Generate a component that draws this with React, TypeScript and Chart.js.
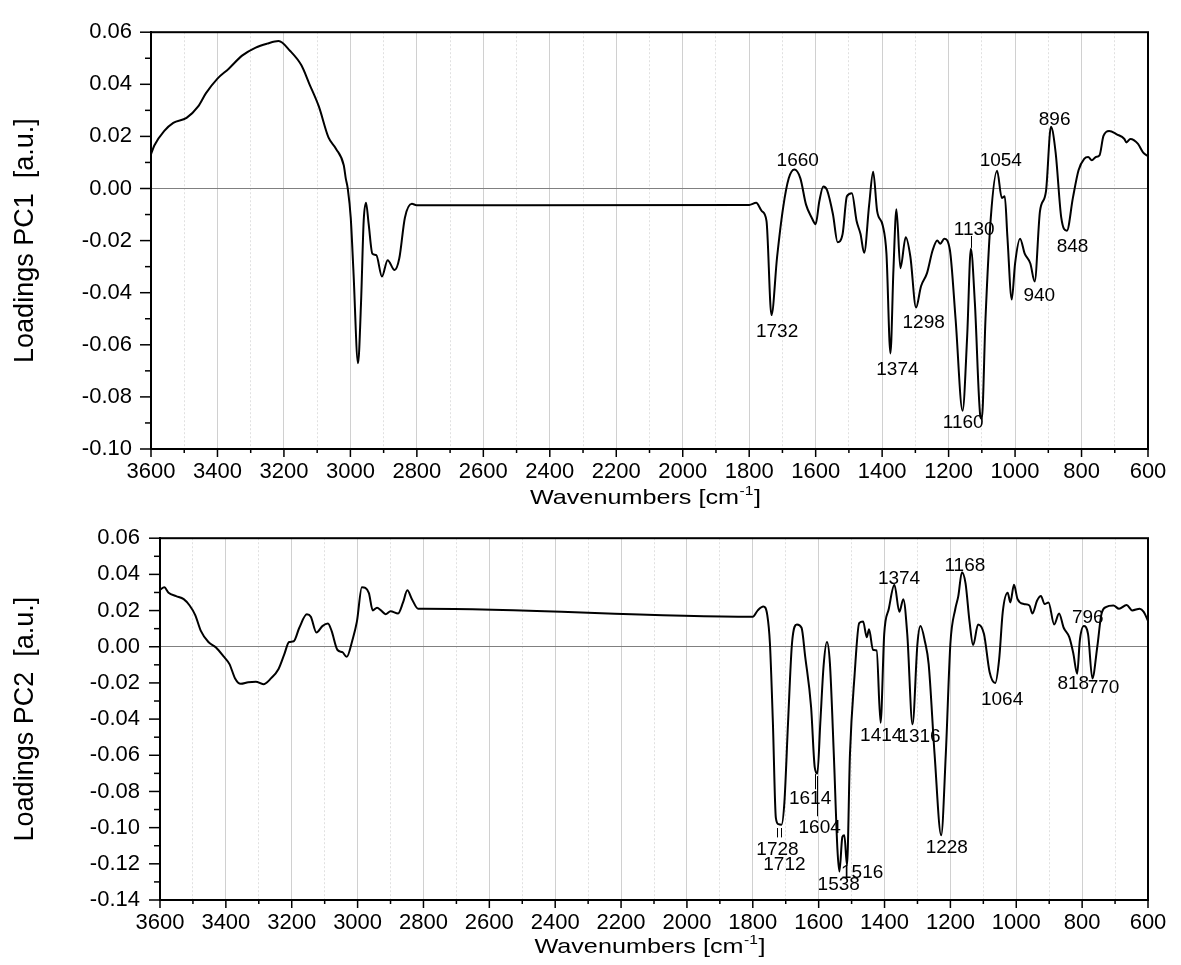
import React, { useEffect, useRef } from 'react';
import { Chart, registerables } from 'chart.js';

Chart.register(...registerables);

// ---------- DATA ----------
const pc1Wavenumbers = [
  3600, 3590, 3560, 3533, 3493, 3458, 3435, 3400, 3366, 3326, 3285, 3251, 3216, 3182, 3147, 3124, 3095,
  3066, 3043, 3020, 3014, 3008, 2999, 2991, 2977, 2968, 2960, 2953, 2945, 2934, 2922, 2905, 2888, 2867,
  2853, 2836, 2815, 2801, 1800, 1779, 1762, 1748, 1733, 1716, 1698, 1681, 1664, 1646, 1629, 1612, 1600,
  1589, 1577, 1566, 1548, 1534, 1519, 1506, 1491, 1477, 1465, 1454, 1439, 1427, 1415, 1398, 1387, 1375,
  1366, 1357, 1345, 1329, 1315, 1298, 1283, 1265, 1248, 1234, 1225, 1213, 1196, 1179, 1158, 1144, 1133,
  1121, 1104, 1100, 1089, 1073, 1054, 1040, 1031, 1023, 1010, 1000, 985, 971, 954, 941, 925, 907, 892,
  878, 861, 844, 826, 809, 792, 780, 769, 757, 746, 734, 717, 694, 671, 665, 653, 630, 615, 600,
];
const pc1Loadings = [
  0.0131, 0.0165, 0.0221, 0.0252, 0.0271, 0.0315, 0.0365, 0.0422, 0.046, 0.051, 0.0541, 0.0556, 0.0566,
  0.0529, 0.0472, 0.0403, 0.0315, 0.0196, 0.0152, 0.0089, 0.0039, 0.0, -0.0112, -0.0313, -0.0671, -0.0438,
  -0.0124, -0.0055, -0.0137, -0.025, -0.0256, -0.0338, -0.0275, -0.0313, -0.0269, -0.0112, -0.0059, -0.0064,
  -0.0063, -0.0055, -0.0087, -0.0124, -0.0486, -0.0262, -0.0074, 0.0039, 0.0073, 0.0039, -0.0062, -0.0112,
  -0.0137, -0.0049, 0.0008, -0.0005, -0.0099, -0.0206, -0.0175, -0.003, -0.0018, -0.0124, -0.0175, -0.0247,
  -0.0062, 0.0064, -0.0087, -0.0143, -0.025, -0.0633, -0.0313, -0.008, -0.0306, -0.0187, -0.0262, -0.0457,
  -0.0375, -0.0325, -0.0237, -0.02, -0.0212, -0.0193, -0.0237, -0.0501, -0.0853, -0.0564, -0.0231, -0.0438,
  -0.0878, -0.0884, -0.0501, -0.0112, 0.0068, -0.0036, -0.003, -0.0187, -0.0426, -0.0288, -0.0193, -0.025,
  -0.0288, -0.0357, -0.0087, -0.0011, 0.0237, 0.0139, -0.0112, -0.0162, -0.0036, 0.007, 0.0114, 0.0121,
  0.0108, 0.0121, 0.0127, 0.0202, 0.0221, 0.0208, 0.019, 0.0177, 0.019, 0.0171, 0.0139, 0.0124,
];

const pc2Wavenumbers = [
  3600, 3587, 3574, 3551, 3528, 3510, 3493, 3476, 3453, 3430, 3407, 3389, 3372, 3355, 3332, 3309, 3286,
  3263, 3240, 3223, 3208, 3194, 3177, 3154, 3142, 3125, 3107, 3090, 3079, 3061, 3046, 3033, 3016, 3002,
  2987, 2966, 2954, 2941, 2929, 2915, 2900, 2877, 2862, 2849, 2835, 2816, 2800, 1800, 1785, 1768, 1756,
  1748, 1739, 1730, 1722, 1713, 1704, 1693, 1681, 1666, 1652, 1641, 1623, 1612, 1604, 1595, 1585, 1575,
  1566, 1554, 1543, 1537, 1528, 1522, 1514, 1505, 1491, 1477, 1465, 1454, 1447, 1435, 1424, 1412, 1401,
  1387, 1370, 1355, 1343, 1331, 1315, 1300, 1291, 1277, 1266, 1248, 1228, 1214, 1200, 1185, 1176, 1165,
  1154, 1142, 1131, 1116, 1098, 1081, 1064, 1052, 1041, 1026, 1018, 1007, 996, 977, 960, 951, 937, 925,
  914, 902, 885, 870, 856, 839, 827, 815, 807, 795, 782, 769, 754, 742, 728, 705, 688, 665, 648, 625,
  613, 600,
];
const pc2Loadings = [
  0.0315, 0.0329, 0.0298, 0.028, 0.0263, 0.0228, 0.0175, 0.0088, 0.0026, -0.0004, -0.0053, -0.0096,
  -0.0175, -0.0205, -0.0196, -0.0193, -0.0207, -0.0175, -0.0123, -0.0044, 0.0026, 0.003, 0.0105, 0.0179,
  0.0166, 0.0079, 0.0114, 0.0128, 0.0088, -0.0018, -0.003, -0.0056, 0.0035, 0.014, 0.0329, 0.0298, 0.0201,
  0.0215, 0.0201, 0.018, 0.0196, 0.0184, 0.0245, 0.0312, 0.0263, 0.021, 0.021, 0.0166, 0.0201, 0.0222,
  0.0175, 0.0018, -0.042, -0.0946, -0.0981, -0.0984, -0.0858, -0.042, 0.0018, 0.0123, 0.0105, -0.0053,
  -0.0333, -0.0665, -0.0701, -0.042, -0.0105, 0.0026, -0.0088, -0.0595, -0.1121, -0.1243, -0.1051, -0.1042,
  -0.1208, -0.0595, -0.0158, 0.0131, 0.014, 0.0053, 0.0096, -0.0018, -0.0021, -0.042, 0.007, 0.021, 0.0342,
  0.0193, 0.0263, 0.007, -0.0429, 0.0018, 0.0114, 0.0026, -0.0096, -0.0595, -0.1042, -0.0595, 0.0018, 0.021,
  0.028, 0.0412, 0.035, 0.014, 0.0009, 0.0123, 0.007, -0.014, -0.0201, -0.007, 0.0193, 0.0298, 0.0245,
  0.0342, 0.0263, 0.0236, 0.0228, 0.0184, 0.0254, 0.028, 0.0236, 0.0245, 0.0123, 0.0184, 0.0105, 0.0053,
  -0.0035, -0.0149, 0.0035, 0.0114, 0.007, -0.0175, 0, 0.0175, 0.0219, 0.0228, 0.021, 0.0231, 0.0201,
  0.021, 0.0193, 0.0144,
];

// peak annotations (text, wavenumber of text centre, loading of text centre)
const pc1PeakTexts = ['1660', '1732', '1374', '1298', '1130', '1160', '1054', '940', '896', '848'];
const pc1PeakWn = [1654, 1716, 1354, 1275, 1123, 1156, 1043, 927, 881, 827];
const pc1PeakY = [0.0108, -0.0551, -0.0696, -0.0514, -0.016, -0.09, 0.0108, -0.0411, 0.0262, -0.0222];
const pc1LeaderWn = [1133];
const pc1LeaderFrom = [-0.0182];
const pc1LeaderTo = [-0.0228];

const pc2PeakTexts = ['1374', '1168', '796', '818', '770', '1064', '1414', '1316', '1614', '1604', '1728', '1712', '1538', '1516', '1228'];
const pc2PeakWn = [1356, 1156, 783, 827, 735, 1043, 1410, 1294, 1626, 1597, 1725, 1704, 1539, 1468, 1211];
const pc2PeakY = [0.0373, 0.0447, 0.0161, -0.0207, -0.0228, -0.0292, -0.049, -0.0499, -0.0841, -0.0998, -0.1121, -0.1205, -0.1317, -0.1252, -0.1112];
const pc2LeaderWn = [1728, 1713, 1612, 1604];
const pc2LeaderFrom = [-0.1002, -0.1002, -0.0704, -0.0715];
const pc2LeaderTo = [-0.1054, -0.1054, -0.0788, -0.0937];

const xMin = 600;
const xMax = 3600;
const xStep = 100;
const xTitleMain = 'Wavenumbers [cm';
const xTitleSup = '-1';
const xTitleEnd = ']';

// ---------- STYLE ----------
const FONT = "'Liberation Sans', Arial, Helvetica, sans-serif";
const TICK_SIZE = 22;
const YTITLE_SIZE = 27;
const XTITLE_SIZE = 21;
const XTITLE_STRETCH = 1.2;
const ANNOT_SIZE = 19;

const decorPlugin = {
  id: 'decor',
  afterDraw(chart: any, _args: any, opts: any) {
    const { ctx, chartArea: a } = chart;
    const x = chart.scales.x;
    const y = chart.scales.y;
    ctx.save();
    // tick marks
    ctx.strokeStyle = '#000';
    ctx.lineWidth = 1.5;
    x.ticks.forEach((t: any) => {
      const px = x.getPixelForValue(t.value);
      const major = Math.round(t.value) % 200 === 0;
      ctx.beginPath();
      ctx.moveTo(px, a.bottom);
      ctx.lineTo(px, a.bottom + (major ? 8 : 4));
      ctx.stroke();
    });
    y.ticks.forEach((t: any) => {
      const py = y.getPixelForValue(t.value);
      const major = Math.round(t.value * 100) % 2 === 0;
      ctx.beginPath();
      ctx.moveTo(a.left, py);
      ctx.lineTo(a.left - (major ? 11 : 6), py);
      ctx.stroke();
    });
    // frame
    ctx.lineWidth = 2;
    ctx.strokeRect(a.left, a.top, a.right - a.left, a.bottom - a.top);

    // x axis title with superscript
    const mainFont = `${XTITLE_SIZE}px ${FONT}`;
    const supFont = `${Math.round(XTITLE_SIZE * 0.6)}px ${FONT}`;
    ctx.font = mainFont;
    const w1 = ctx.measureText(xTitleMain).width;
    const w3 = ctx.measureText(xTitleEnd).width;
    ctx.font = supFont;
    const w2 = ctx.measureText(xTitleSup).width + 1;
    const total = (w1 + w2 + w3) * XTITLE_STRETCH;
    const cx = (a.left + a.right) / 2 - 4;
    const baseY = a.bottom + opts.xTitleBaseline;
    ctx.save();
    ctx.translate(cx - total / 2, baseY);
    ctx.scale(XTITLE_STRETCH, 1);
    ctx.fillStyle = '#000';
    ctx.textAlign = 'left';
    ctx.textBaseline = 'alphabetic';
    ctx.font = mainFont;
    ctx.fillText(xTitleMain, 0, 0);
    ctx.font = supFont;
    ctx.fillText(xTitleSup, w1 + 0.5, -XTITLE_SIZE * 0.42);
    ctx.font = mainFont;
    ctx.fillText(xTitleEnd, w1 + w2, 0);
    ctx.restore();

    // annotations
    ctx.fillStyle = '#000';
    ctx.font = `${ANNOT_SIZE}px ${FONT}`;
    ctx.textAlign = 'center';
    ctx.textBaseline = 'middle';
    opts.texts.forEach((txt: string, i: number) => {
      ctx.fillText(txt, x.getPixelForValue(opts.wn[i]), y.getPixelForValue(opts.yv[i]));
    });
    ctx.lineWidth = 1;
    opts.leaderWn.forEach((w: number, i: number) => {
      const px = Math.round(x.getPixelForValue(w)) + 0.5;
      ctx.beginPath();
      ctx.moveTo(px, y.getPixelForValue(opts.leaderFrom[i]));
      ctx.lineTo(px, y.getPixelForValue(opts.leaderTo[i]));
      ctx.stroke();
    });
    ctx.restore();
  },
};

type Cfg = {
  wn: number[];
  vals: number[];
  yMin: number;
  yMax: number;
  yTitle: string;
  yAxisWidth: number;
  yTickPad: number;
  xAxisHeight: number;
  xTickPad: number;
  xTitleBaseline: number;
  padTop: number;
  padRight: number;
  texts: string[];
  tWn: number[];
  tY: number[];
  leaderWn: number[];
  leaderFrom: number[];
  leaderTo: number[];
};

function makeConfig(c: Cfg): any {
  const points = c.wn.map((w, i) => ({ x: w, y: c.vals[i] }));
  return {
    type: 'scatter',
    data: {
      datasets: [
        {
          data: points,
          showLine: true,
          borderColor: '#000',
          borderWidth: 2,
          pointRadius: 0,
          cubicInterpolationMode: 'monotone',
          fill: false,
        },
      ],
    },
    options: {
      animation: false,
      responsive: false,
      maintainAspectRatio: false,
      layout: { padding: { top: c.padTop, right: c.padRight, left: 0, bottom: 0 } },
      plugins: {
        legend: { display: false },
        tooltip: { enabled: false },
        decor: {
          texts: c.texts,
          wn: c.tWn,
          yv: c.tY,
          leaderWn: c.leaderWn,
          leaderFrom: c.leaderFrom,
          leaderTo: c.leaderTo,
          xTitleBaseline: c.xTitleBaseline,
        },
      },
      scales: {
        x: {
          type: 'linear',
          min: xMin,
          max: xMax,
          reverse: true,
          afterFit: (s: any) => {
            s.height = c.xAxisHeight;
          },
          ticks: {
            stepSize: xStep,
            autoSkip: false,
            maxRotation: 0,
            padding: c.xTickPad,
            color: '#000',
            font: { family: FONT, size: TICK_SIZE },
            callback: (v: any) => (Math.round(Number(v)) % 200 === 0 ? String(Math.round(Number(v))) : ''),
          },
          grid: {
            drawTicks: false,
            lineWidth: 1,
            color: (ctx: any) =>
              ctx.tick && Math.round(ctx.tick.value) % 200 !== 0 ? '#e0e0e0' : '#d0d0d0',
          },
          border: {
            display: true,
            color: '#000',
            width: 2,
            dash: (ctx: any) => (ctx && ctx.tick && Math.round(ctx.tick.value) % 200 !== 0 ? [2, 2] : []),
          },
          title: { display: false },
        },
        y: {
          min: c.yMin,
          max: c.yMax,
          afterFit: (s: any) => {
            s.width = c.yAxisWidth;
          },
          ticks: {
            stepSize: 0.01,
            autoSkip: false,
            padding: c.yTickPad,
            color: '#000',
            font: { family: FONT, size: TICK_SIZE },
            callback: (v: any) => {
              const k = Math.round(Number(v) * 100);
              return k % 2 === 0 ? (k / 100).toFixed(2) : '';
            },
          },
          grid: {
            drawTicks: false,
            lineWidth: 1,
            color: (ctx: any) =>
              ctx.tick && Math.abs(ctx.tick.value) < 1e-9 ? '#808080' : 'rgba(0,0,0,0)',
          },
          border: { display: true, color: '#000', width: 2 },
          title: {
            display: true,
            text: c.yTitle,
            color: '#000',
            font: { family: FONT, size: YTITLE_SIZE },
            padding: { top: 9, bottom: 0 },
          },
        },
      },
    },
    plugins: [decorPlugin],
  };
}

function SpectrumChart(props: { cfg: Cfg; top: number; height: number }) {
  const ref = useRef<HTMLCanvasElement | null>(null);
  useEffect(() => {
    if (!ref.current) return;
    const chart = new Chart(ref.current, makeConfig(props.cfg));
    return () => chart.destroy();
  }, []);
  return (
    <canvas
      ref={ref}
      width={1181}
      height={props.height}
      style={{ position: 'absolute', left: 0, top: props.top, width: 1181, height: props.height }}
    />
  );
}

const pc1Cfg: Cfg = {
  wn: pc1Wavenumbers,
  vals: pc1Loadings,
  yMin: -0.1,
  yMax: 0.06,
  yTitle: 'Loadings PC1  [a.u.]',
  yAxisWidth: 151,
  yTickPad: 19,
  xAxisHeight: 61,
  xTickPad: 10,
  xTitleBaseline: 55,
  padTop: 24,
  padRight: 33,
  texts: pc1PeakTexts,
  tWn: pc1PeakWn,
  tY: pc1PeakY,
  leaderWn: pc1LeaderWn,
  leaderFrom: pc1LeaderFrom,
  leaderTo: pc1LeaderTo,
};

const pc2Cfg: Cfg = {
  wn: pc2Wavenumbers,
  vals: pc2Loadings,
  yMin: -0.14,
  yMax: 0.06,
  yTitle: 'Loadings PC2  [a.u.]',
  yAxisWidth: 160,
  yTickPad: 20,
  xAxisHeight: 65,
  xTickPad: 10,
  xTitleBaseline: 53,
  padTop: 14,
  padRight: 33,
  texts: pc2PeakTexts,
  tWn: pc2PeakWn,
  tY: pc2PeakY,
  leaderWn: pc2LeaderWn,
  leaderFrom: pc2LeaderFrom,
  leaderTo: pc2LeaderTo,
};

export default function App() {
  return (
    <div
      style={{
        position: 'fixed',
        left: 0,
        top: 0,
        width: 1181,
        height: 965,
        background: '#fff',
        overflow: 'hidden',
      }}
    >
      <SpectrumChart cfg={pc1Cfg} top={0} height={510} />
      <SpectrumChart cfg={pc2Cfg} top={505} height={460} />
    </div>
  );
}
